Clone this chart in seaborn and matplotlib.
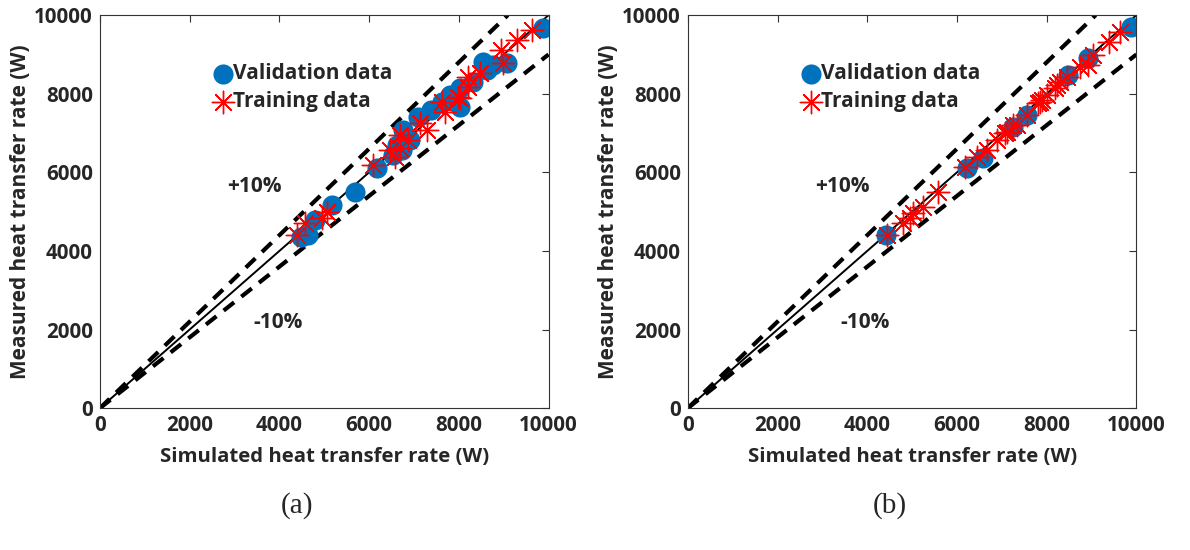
import numpy as np
import pandas as pd
import matplotlib
matplotlib.use("Agg")
import matplotlib.pyplot as plt
import seaborn as sns

# Panel (a): simulated vs measured heat transfer rate (W)
val_a_sim = [4480, 4630, 4790, 5170, 5680, 6170, 6530, 6730, 6620, 6750, 6900,
             7080, 7390, 7620, 7860, 8020, 7800, 8020, 8310, 8620, 8530, 8750,
             9070, 9870]
val_a_meas = [4350, 4400, 4780, 5160, 5500, 6110, 6440, 6570, 6690, 7070, 6820,
              7400, 7580, 7790, 7960, 7660, 7960, 8140, 8300, 8600, 8800, 8730,
              8780, 9670]
train_a_sim = [4390, 4570, 4940, 5060, 6080, 6460, 6570, 6680, 6680, 6860, 7130,
               7300, 7620, 7680, 7970, 8020, 8200, 8200, 8460, 8950, 8980, 9290,
               9640]
train_a_meas = [4400, 4710, 4840, 4990, 6180, 6570, 6390, 6620, 6950, 6820, 7250,
                7070, 7790, 7530, 7910, 7890, 8170, 8420, 8520, 9110, 8780, 9360,
                9620]

# Panel (b)
val_b_sim = [4420, 6230, 6590, 7250, 7570, 8480, 8910, 9870]
val_b_meas = [4400, 6110, 6360, 7150, 7450, 8470, 8910, 9700]
train_b_sim = [4440, 4800, 5020, 5250, 5580, 6180, 6450, 6670, 6900, 7080, 7120,
               7250, 7340, 7570, 7810, 7860, 7900, 8010, 8190, 8240, 8300, 8460,
               8750, 8910, 9040, 9380, 9640, 4960]
train_b_meas = [4400, 4710, 4960, 5120, 5500, 6130, 6390, 6570, 6820, 7000, 7020,
                7200, 7210, 7450, 7760, 7790, 7840, 7960, 8140, 8220, 8300, 8420,
                8680, 8730, 8980, 9310, 9570, 4840]

AX_MAX = 10000
TICKS = [0, 2000, 4000, 6000, 8000, 10000]

sns.set_theme(style="white")
plt.rcParams["font.family"] = ["Open Sans", "DejaVu Sans"]
plt.rcParams["font.weight"] = "bold"

fig = plt.figure(figsize=(11.9, 5.5), dpi=100)
ax_a = fig.add_axes([0.084, 0.258, 0.377, 0.7145])
ax_b = fig.add_axes([0.578, 0.258, 0.377, 0.7145])

asterisk = (8, 2, 0)

panels = [
    (ax_a, val_a_sim, val_a_meas, train_a_sim, train_a_meas, "(a)", 0.439),
    (ax_b, val_b_sim, val_b_meas, train_b_sim, train_b_meas, "(b)", 0.451),
]

for ax, vs, vm, ts, tm, tag, tag_x in panels:
    ref = np.array([0, AX_MAX])
    ax.plot(ref, ref, color="black", lw=1.4, zorder=1)
    ax.plot([0, AX_MAX / 1.1], [0, AX_MAX], color="black", lw=3.0,
            ls=(0, (3.2, 2.2)), zorder=1)
    ax.plot([0, AX_MAX], [0, AX_MAX * 0.9], color="black", lw=3.0,
            ls=(0, (3.2, 2.2)), zorder=1)

    dv = pd.DataFrame({"sim": vs, "meas": vm})
    dt = pd.DataFrame({"sim": ts, "meas": tm})
    sns.scatterplot(data=dv, x="sim", y="meas", ax=ax, color="#0072BD",
                    edgecolor="#0072BD", s=210, marker="o", linewidth=0,
                    label="Validation data", zorder=2)
    sns.scatterplot(data=dt, x="sim", y="meas", ax=ax, color="red",
                    edgecolor="red", s=260, marker=asterisk, linewidth=1.0,
                    label="Training data", zorder=3)

    ax.set_xlim(0, AX_MAX)
    ax.set_ylim(0, AX_MAX)
    ax.set_xticks(TICKS)
    ax.set_yticks(TICKS)
    ax.set_xticklabels([str(t) for t in TICKS])
    ax.set_yticklabels([str(t) for t in TICKS])
    ax.tick_params(direction="in", length=5, width=0.8, top=True, right=True,
                   labelsize=14.8, pad=5, color="#333333")
    for lab in ax.get_xticklabels() + ax.get_yticklabels():
        lab.set_fontweight("bold")
    for sp in ax.spines.values():
        sp.set_color("#333333")
        sp.set_linewidth(0.8)

    ax.set_xlabel("Simulated heat transfer rate (W)", fontsize=14.7,
                  fontweight="bold", labelpad=8)
    ax.set_ylabel("Measured heat transfer rate (W)", fontsize=15,
                  fontweight="bold", labelpad=2)

    ax.text(3450, 5650, "+10%", ha="center", va="center", fontsize=15,
            fontweight="bold")
    ax.text(3960, 2190, "-10%", ha="center", va="center", fontsize=15,
            fontweight="bold")

    ax.legend(loc="upper left", bbox_to_anchor=(0.195, 0.915), frameon=False,
              handletextpad=-0.5, borderaxespad=0.3, labelspacing=0.35,
              prop={"weight": "bold", "size": 15})

    ax.text(tag_x, -0.247, tag, transform=ax.transAxes, ha="center",
            va="center", fontsize=21, fontweight="normal",
            family=["Liberation Serif"])

fig.savefig("out.png", dpi=100)
